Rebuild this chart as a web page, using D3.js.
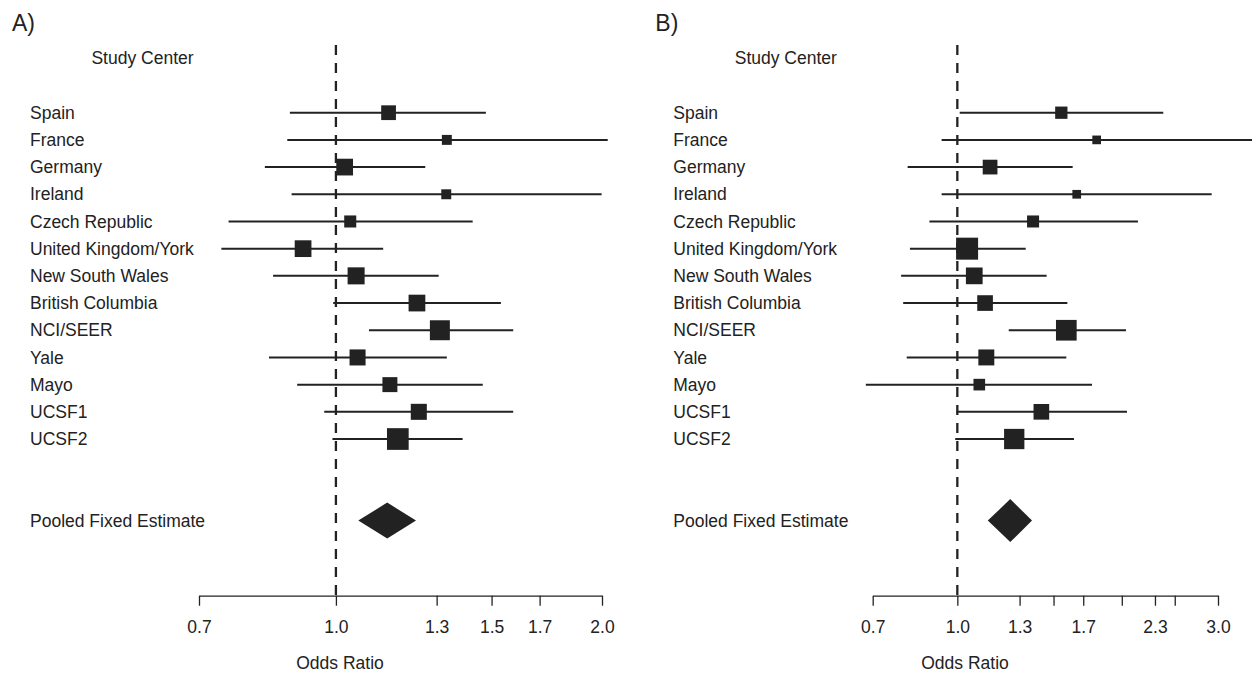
<!DOCTYPE html>
<html>
<head>
<meta charset="utf-8">
<script src="https://cdn.jsdelivr.net/npm/d3@7"></script>
<style>
  body { margin: 0; background: #fff; }
  text { font-family: "Liberation Sans", Arial, sans-serif; fill: #222; }
</style>
</head>
<body>
<script>
// study centers, top to bottom
const centers = ["Spain", "France", "Germany", "Ireland", "Czech Republic", "United Kingdom/York",
  "New South Wales", "British Columbia", "NCI/SEER", "Yale", "Mayo", "UCSF1", "UCSF2"];

// panel A: odds ratio, lower and upper CI, relative weight (%)
const orA = [1.147, 1.335, 1.023, 1.333, 1.038, 0.918, 1.054, 1.235, 1.311, 1.058, 1.151, 1.241, 1.175];
const loA = [0.887, 0.881, 0.831, 0.891, 0.756, 0.742, 0.849, 0.993, 1.090, 0.840, 0.904, 0.970, 0.991];
const hiA = [1.478, 2.030, 1.262, 1.998, 1.428, 1.131, 1.307, 1.537, 1.587, 1.335, 1.466, 1.587, 1.391];
const wA  = [6.6, 3.0, 8.5, 3.0, 4.4, 8.5, 8.8, 8.5, 12.1, 7.8, 6.8, 7.8, 14.3];
const pooledA = [1.143, 1.060, 1.232];   // estimate, lower, upper

// panel B
const orB = [1.550, 1.799, 1.148, 1.654, 1.376, 1.042, 1.074, 1.124, 1.583, 1.130, 1.097, 1.425, 1.271];
const loB = [1.010, 0.936, 0.811, 0.936, 0.889, 0.819, 0.789, 0.796, 1.242, 0.808, 0.680, 0.997, 0.991];
const hiB = [2.382, 3.600, 1.626, 2.921, 2.141, 1.334, 1.457, 1.590, 2.036, 1.583, 1.764, 2.044, 1.635];
const wB  = [4.8, 2.4, 6.9, 2.4, 4.6, 15.4, 8.9, 7.8, 13.6, 8.1, 4.3, 7.8, 13.1];
const pooledB = [1.250, 1.137, 1.370];

// axis ticks
const ticksA = [0.7, 1.0, 1.3, 1.5, 1.7, 2.0];
const tickLabelsA = ["0.7", "1.0", "1.3", "1.5", "1.7", "2.0"];
const ticksB = [0.7, 1.0, 1.3, 1.5, 1.7, 2.0, 2.3, 2.5, 3.0];
const tickLabelsB = ["0.7", "1.0", "1.3", "", "1.7", "", "2.3", "", "3.0"];

const W = 1252, H = 675;
const fs = 17.5;

const svg = d3.select("body").append("svg")
  .attr("width", W)
  .attr("height", H);

// row index -> pixel y (pooled row sits 3 rows below the last center)
const y = d3.scaleLinear().domain([0, 15]).range([112.7, 520.6]);
const axisY = 595.7;

const panels = [
  { letter: "A)", or: orA, lo: loA, hi: hiA, w: wA, pooled: pooledA, ticks: ticksA, tickLabels: tickLabelsA,
    dx: 0, range: [199, 602], boxMax: 21.7, diamondH: 18, xlabX: 340 },
  { letter: "B)", or: orB, lo: loB, hi: hiB, w: wB, pooled: pooledB, ticks: ticksB, tickLabels: tickLabelsB,
    dx: 643.3, range: [872.7, 1218], boxMax: 22, diamondH: 21.5, xlabX: 965 }
];

panels.forEach(p => {
  const g = svg.append("g");
  const x = d3.scaleLog().domain([p.ticks[0], p.ticks[p.ticks.length - 1]]).range(p.range);
  const size = d3.scaleSqrt().domain([0, d3.max(p.w)]).range([0, p.boxMax]);

  g.append("text")
    .attr("x", 12 + p.dx)
    .attr("y", 31)
    .style("font-size", "23px")
    .text(p.letter);

  g.append("text")
    .attr("x", 142.5 + p.dx)
    .attr("y", y(-2))
    .attr("dy", "0.35em")
    .attr("text-anchor", "middle")
    .style("font-size", fs + "px")
    .text("Study Center");

  g.selectAll(".lab")
    .data(centers)
    .join("text")
    .attr("class", "lab")
    .attr("x", 30 + p.dx)
    .attr("y", (d, i) => y(i))
    .attr("dy", "0.35em")
    .style("font-size", fs + "px")
    .text(d => d);

  g.append("text")
    .attr("x", 30 + p.dx)
    .attr("y", y(15))
    .attr("dy", "0.35em")
    .style("font-size", fs + "px")
    .text("Pooled Fixed Estimate");

  // null line
  g.append("line")
    .attr("x1", x(1)).attr("x2", x(1))
    .attr("y1", 45).attr("y2", axisY)
    .attr("stroke", "#222")
    .attr("stroke-width", 2.3)
    .attr("stroke-dasharray", "10,8");

  // confidence intervals
  g.selectAll(".ci")
    .data(centers)
    .join("line")
    .attr("class", "ci")
    .attr("x1", (d, i) => x(p.lo[i]))
    .attr("x2", (d, i) => x(p.hi[i]))
    .attr("y1", (d, i) => y(i))
    .attr("y2", (d, i) => y(i))
    .attr("stroke", "#222")
    .attr("stroke-width", 2);

  // boxes
  g.selectAll(".box")
    .data(centers)
    .join("rect")
    .attr("class", "box")
    .attr("x", (d, i) => x(p.or[i]) - size(p.w[i]) / 2)
    .attr("y", (d, i) => y(i) - size(p.w[i]) / 2)
    .attr("width", (d, i) => size(p.w[i]))
    .attr("height", (d, i) => size(p.w[i]))
    .attr("fill", "#222");

  // pooled diamond
  const py = y(15);
  g.append("path")
    .attr("d", d3.line()([
      [x(p.pooled[1]), py],
      [x(p.pooled[0]), py - p.diamondH],
      [x(p.pooled[2]), py],
      [x(p.pooled[0]), py + p.diamondH]
    ]) + "Z")
    .attr("fill", "#222");

  // axis
  const ax = g.append("g")
    .attr("transform", "translate(0," + axisY + ")")
    .call(d3.axisBottom(x)
      .tickValues(p.ticks)
      .tickFormat((d, i) => p.tickLabels[i])
      .tickSize(10)
      .tickSizeOuter(0)
      .tickPadding(15));
  ax.select(".domain").attr("stroke", "#222").attr("stroke-width", 1.3);
  ax.selectAll(".tick line").attr("stroke", "#222").attr("stroke-width", 1.3);
  ax.selectAll(".tick text")
    .attr("fill", "#222")
    .style("font-size", fs + "px")
    .style("font-family", "Liberation Sans, Arial, sans-serif");

  g.append("text")
    .attr("x", p.xlabX)
    .attr("y", 663)
    .attr("dy", "0.35em")
    .attr("text-anchor", "middle")
    .style("font-size", fs + "px")
    .text("Odds Ratio");
});
</script>
</body>
</html>
